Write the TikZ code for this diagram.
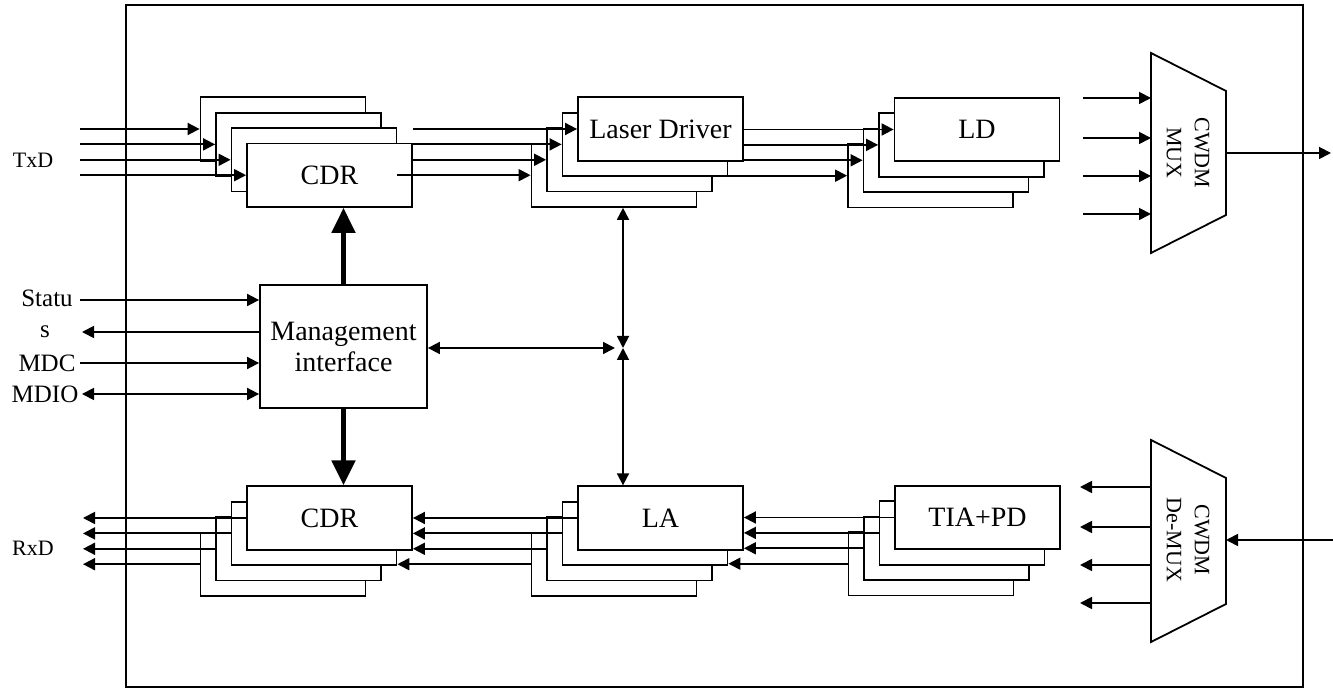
\documentclass[tikz,border=0pt]{standalone}
\usepackage{fontspec}
\setmainfont{Liberation Serif}
\usepackage{tikz}
\usetikzlibrary{positioning, arrows.meta, calc}

\begin{document}
\begin{tikzpicture}[x=0.5pt, y=-0.5pt, line width=0.9pt,
    blk/.style={draw, fill=white, minimum width=82.5pt, minimum height=31.75pt, inner sep=0pt, font=\fontsize{14}{15.5}\selectfont},
    sig/.style={-{Triangle[length=6pt,width=6pt]}},
    sigb/.style={{Triangle[length=6pt,width=6pt]}-{Triangle[length=6pt,width=6pt]}},
    fat/.style={line width=2.5pt, -{Triangle[length=12.5pt,width=11.5pt]}},
    lab/.style={font=\fontsize{11}{13}\selectfont, inner sep=0pt},
    mlab/.style={font=\fontsize{12.5}{14}\selectfont, inner sep=0pt}]
  \useasboundingbox (0,0) rectangle (1333,688);

  % module frame
  \draw (126,5) rectangle (1303,687);

  % Tx: CDR stack, front box drawn last
  \foreach \k in {1,...,3}
    \node[blk] (cdrt\k) at ({283+15.5*(\k-1)},{129+15.4*(\k-1)}) {};
  \node[blk] (cdrt4) at (329.5,175.2) {CDR};

  % Tx: laser driver stack
  \foreach \k in {4,3,2}
    \node[blk] (ldrv\k) at ({660.5-15.5*(\k-1)},{129+15.4*(\k-1)}) {};
  \node[blk] (ldrv1) at (660.5,129) {Laser Driver};

  % Tx: LD stack
  \foreach \k in {4,3,2}
    \node[blk] (ld\k) at ({977-15.5*(\k-1)},{129.5+15.4*(\k-1)}) {};
  \node[blk] (ld1) at (977,129.5) {LD};

  % Rx: CDR, LA and TIA+PD stacks
  \foreach \k in {4,3,2} {
    \node[blk] (cdrb\k) at ({329.5-15.5*(\k-1)},{518+15.4*(\k-1)}) {};
    \node[blk] (la\k) at ({660.5-15.5*(\k-1)},{518+15.4*(\k-1)}) {};
    \node[blk] (tia\k) at ({977.5-15.5*(\k-1)},{517.5+15.4*(\k-1)}) {};
  }
  \node[blk] (cdrb1) at (329.5,518) {CDR};
  \node[blk] (la1) at (660.5,518) {LA};
  \node[blk] (tia1) at (977.5,517.5) {TIA+PD};

  % management block
  \node[blk, minimum width=83.5pt, minimum height=61.5pt, align=center] (mgmt) at (343.5,346.5) {Management\\interface};

  % Tx lanes
  \coordinate (txdx) at (80,0);
  \foreach \k in {1,...,4}
    \draw[sig] (txdx |- cdrt\k.west) -- (cdrt\k.west);
  \foreach \k in {1,2,3} {
    \draw[sig] (cdrt4.east |- ldrv\k.west) -- (ldrv\k.west);
    \draw[sig] (ldrv1.east |- ld\k.west) -- (ld\k.west);
  }
  \draw[sig] (cdrt3.east |- ldrv4.west) -- (ldrv4.west);
  \draw[sig] (ldrv2.east |- ld4.west) -- (ld4.west);

  % Rx lanes
  \coordinate (rxdx) at (83,0);
  \foreach \k in {1,2,3} {
    \draw[sig] (tia\k.west) -- (la1.east |- tia\k.west);
    \draw[sig] (la\k.west) -- (cdrb1.east |- la\k.west);
  }
  \draw[sig] (tia4.west) -- (la2.east |- tia4.west);
  \draw[sig] (la4.west) -- (cdrb2.east |- la4.west);
  \foreach \k in {1,...,4}
    \draw[sig] (cdrb\k.west) -- (rxdx |- cdrb\k.west);

  \node[lab] (txdlab) at (33,160) {TxD};
  \node[lab] (rxdlab) at (33,548) {RxD};

  % CWDM MUX
  \draw (1151,53) -- (1226,91) -- (1226,215) -- (1151,253) -- cycle;
  \node[lab, rotate=-90, align=center, font=\fontsize{11}{14}\selectfont] (mux) at (1188,153) {CWDM\\MUX};
  \coordinate (muxl) at (1151,153);
  \coordinate (muxr) at (1226,153);
  \coordinate (txout) at (1331,153);
  \foreach \y [count=\k] in {98,138,176,214} {
    \coordinate (muxin\k) at (1083,\y);
    \draw[sig] (muxin\k) -- (muxin\k -| muxl);
  }
  \draw[sig] (muxr) -- (txout);

  % CWDM De-MUX
  \draw (1151,440) -- (1226,478) -- (1226,604) -- (1151,642) -- cycle;
  \node[lab, rotate=-90, align=center, font=\fontsize{11}{14}\selectfont] (demux) at (1188,540) {CWDM\\De-MUX};
  \coordinate (demuxl) at (1151,540);
  \coordinate (demuxr) at (1226,540);
  \coordinate (rxin) at (1333,540);
  \foreach \y [count=\k] in {487,527,565,603} {
    \coordinate (demuxout\k) at (1080,\y);
    \draw[sig] (demuxout\k -| demuxl) -- (demuxout\k);
  }
  \draw[sig] (rxin) -- (demuxr);

  % management signals
  \coordinate (stin) at (80,300);
  \coordinate (stout) at (82,332);
  \coordinate (mdc) at (80,363);
  \coordinate (mdio) at (82,394);
  \draw[sig] (stin) -- (stin -| mgmt.west);
  \draw[sig] (stout -| mgmt.west) -- (stout);
  \draw[sig] (mdc) -- (mdc -| mgmt.west);
  \draw[sigb] (mdio) -- (mdio -| mgmt.west);
  \node[mlab] (stlab) at (47,298) {Statu};
  \node[mlab] (slab) at (45,332) {s};
  \node[mlab] (mdclab) at (47,363) {MDC};
  \node[mlab] (mdiolab) at (45,394) {MDIO};

  % control to the CDRs
  \draw[fat] (mgmt.north) -- (mgmt.north |- cdrt4.south);
  \draw[fat] (mgmt.south) -- (mgmt.south |- cdrb1.north);

  % control bus
  \coordinate (bus) at (623,348);
  \draw[sigb] (bus |- ldrv4.south) -- (bus);
  \draw[sigb] (bus) -- (bus |- la1.north);
  \draw[sigb, shorten >=4pt] (mgmt.east |- bus) -- (bus);
\end{tikzpicture}
\end{document}
